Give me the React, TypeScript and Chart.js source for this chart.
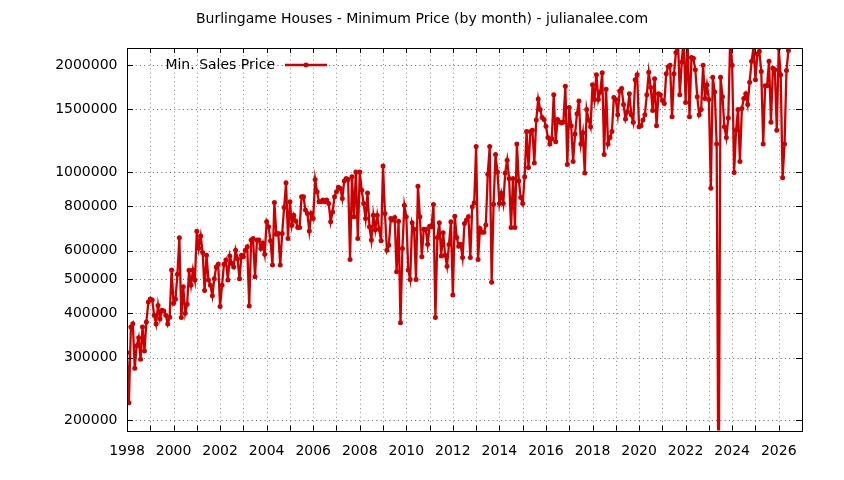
import React, { useEffect, useRef } from "react";
import { Chart, registerables } from "chart.js";

Chart.register(...registerables);

// ---------- text ----------
const TITLE = "Burlingame Houses - Minimum Price (by month) - julianalee.com";
const SERIES_LABEL = "Min. Sales Price";

// ---------- axes ----------
const X_MIN = 1998;
const X_MAX = 2027;
const START_YEAR = 1998; // first value = Jan 1998, one value per month
const Y_MIN = 187000;
const Y_MAX = 2235000;
const Y_TICKS = [200000, 300000, 400000, 500000, 600000, 800000, 1000000, 1500000, 2000000];

// ---------- data: minimum sale price per month, in thousands of dollars ----------
// Jan 1998 - Dec 2002
const pricesA = [
  310, 224, 366, 374, 280, 324, 341, 297, 366, 313, 378, 430,
  439, 436, 395, 373, 421, 386, 408, 406, 395, 373, 390, 530,
  427, 438, 515, 653, 389, 475, 400, 424, 529, 480, 530, 496,
  681, 610, 660, 593, 464, 583, 496, 480, 448, 500, 540, 550,
  418, 480, 550, 565, 496, 580, 552, 540, 602, 570, 500, 583,
];
// Jan 2003 - Nov 2007
const pricesB = [
  577, 602, 616, 419, 643, 650, 507, 643, 643, 609,
  630, 587, 724, 701, 640, 547, 820, 668, 671, 547,
  671, 794, 932, 650, 824, 708, 755, 728, 698, 698,
  851, 851, 781, 764, 682, 764, 740, 953, 880, 824,
  824, 834, 824, 834, 815, 724, 772, 851, 880, 906,
  899, 842, 944, 959, 953, 567, 969, 748, 1000,
];
// Dec 2007 - Sep 2012
const pricesC = [
  650, 1000, 889, 815, 740, 873, 701, 643, 755, 688,
  755, 690, 640, 1040, 764, 602, 622, 740, 732, 745,
  524, 727, 376, 609, 806, 748, 530, 498, 719, 690,
  498, 912, 748, 577, 690, 690, 626, 703, 701, 810,
  389, 654, 719, 580, 674, 583, 543, 625, 724, 450,
  751, 654, 618, 626, 574, 716, 732, 748,
];
// Oct 2012 - Oct 2017
const pricesD = [
  574, 798, 819, 1180, 567, 693, 676, 676, 709, 986,
  1180, 489, 811, 1120, 1000, 815, 871, 815, 994, 1080,
  959, 698, 959, 698, 1200, 944, 847, 815, 969, 1300,
  1030, 1300, 1310, 1060, 1400, 1605, 1500, 1425, 1406, 1346,
  1250, 1200, 1240, 1650, 1216, 1406, 1384, 1375, 1384, 1745,
  1050, 1520, 1350, 1070, 1280, 1460, 1586, 1200, 1290, 994,
  1500,
];
// Nov 2017 - May 2020
const pricesE = [
  1400, 1340, 1760, 1600, 1880, 1600, 1680, 1905, 1120, 1710,
  1200, 1250, 1300, 1620, 1600, 1450, 1690, 1720, 1550, 1410,
  1477, 1660, 1450, 1380, 1820, 1880, 1340, 1350, 1400, 1450,
  1650,
];
// Jun 2020 - Aug 2022
const pricesF = [
  1910, 1730, 1490, 1830, 1350, 1660, 1650, 1590, 1560, 1890,
  1980, 2000, 1430, 1890, 2170, 2400, 1650, 2040, 2400, 1570,
  2400, 1430, 2100, 2090, 1940, 1630, 1450,
];
// Sep 2022 - Jun 2026
const pricesG = [
  1500, 2000, 1610, 1760, 1600, 900, 1850, 1680, 1200,
  100, 1850, 1630, 1340, 1250, 1420, 2400, 2000, 997, 1310,
  1500, 1070, 1510, 1610, 1660, 1550, 1790, 2050, 2240, 1820,
  2150, 2190, 1920, 1200, 1750, 1750, 2050, 1380, 1960, 1940,
  1310, 2230, 1880, 963, 1200, 1930, 2200,
];

// ---------- style ----------
const FONT = "DejaVu Sans";
const FONT_SIZE = 14;
const LINE_COLOR = "#cc0000";

export default function App() {
  const ref = useRef<HTMLCanvasElement | null>(null);

  useEffect(() => {
    document.body.style.margin = "0";
    const canvas = ref.current;
    if (!canvas) return;

    const allK = [...pricesA, ...pricesB, ...pricesC, ...pricesD, ...pricesE, ...pricesF, ...pricesG];
    const points = allK.map((k, i) => ({ x: START_YEAR + i / 12, y: k * 1000 }));

    const gridPlugin = {
      id: "dottedGrid",
      beforeDatasetsDraw(chart: any) {
        const ctx = chart.ctx;
        const a = chart.chartArea;
        const xs = chart.scales.x;
        const ys = chart.scales.y;
        ctx.save();
        ctx.lineWidth = 1;
        ctx.setLineDash([1, 3.3]);
        ctx.strokeStyle = "#8c8c8c";
        ctx.beginPath();
        for (let yr = X_MIN + 1; yr < X_MAX; yr++) {
          const px = Math.round(xs.getPixelForValue(yr)) + 0.5;
          ctx.moveTo(px, a.bottom);
          ctx.lineTo(px, a.top);
        }
        ctx.stroke();
        ctx.strokeStyle = "#5a5a5a";
        ctx.beginPath();
        for (const v of Y_TICKS) {
          const py = Math.round(ys.getPixelForValue(v)) + 0.5;
          ctx.moveTo(a.left, py);
          ctx.lineTo(a.right, py);
        }
        ctx.stroke();
        ctx.restore();
      },
    };

    const decor = {
      id: "decor",
      afterDraw(chart: any) {
        const ctx = chart.ctx;
        const a = chart.chartArea;
        const xs = chart.scales.x;
        const ys = chart.scales.y;
        ctx.save();
        // frame
        ctx.strokeStyle = "#000";
        ctx.lineWidth = 1;
        ctx.strokeRect(Math.round(a.left) + 0.5, Math.round(a.top) + 0.5, Math.round(a.right - a.left), Math.round(a.bottom - a.top));
        // inward tics
        ctx.beginPath();
        for (let yr = X_MIN; yr <= X_MAX; yr++) {
          const px = Math.round(xs.getPixelForValue(yr)) + 0.5;
          ctx.moveTo(px, a.bottom);
          ctx.lineTo(px, a.bottom - 5);
          ctx.moveTo(px, a.top);
          ctx.lineTo(px, a.top + 5);
        }
        for (const v of Y_TICKS) {
          const py = Math.round(ys.getPixelForValue(v)) + 0.5;
          ctx.moveTo(a.left, py);
          ctx.lineTo(a.left + 6, py);
          ctx.moveTo(a.right, py);
          ctx.lineTo(a.right - 6, py);
        }
        ctx.stroke();
        // title
        ctx.fillStyle = "#000";
        ctx.font = `${FONT_SIZE}px "${FONT}"`;
        ctx.textAlign = "center";
        ctx.textBaseline = "middle";
        ctx.fillText(TITLE, chart.width / 2, 19);
        // key
        const ky = a.top + 17;
        ctx.textAlign = "right";
        ctx.fillText(SERIES_LABEL, a.left + 148, ky);
        ctx.strokeStyle = LINE_COLOR;
        ctx.lineWidth = 2.3;
        ctx.beginPath();
        ctx.moveTo(a.left + 158, ky);
        ctx.lineTo(a.left + 200, ky);
        ctx.stroke();
        ctx.fillStyle = LINE_COLOR;
        ctx.beginPath();
        ctx.arc(a.left + 179, ky, 2.5, 0, Math.PI * 2);
        ctx.fill();
        ctx.restore();
      },
    };

    const chart = new Chart(canvas, {
      type: "line",
      data: {
        datasets: [
          {
            label: SERIES_LABEL,
            data: points,
            borderColor: LINE_COLOR,
            backgroundColor: LINE_COLOR,
            borderWidth: 2.3,
            pointRadius: 2.5,
            pointBorderWidth: 0,
            pointBackgroundColor: LINE_COLOR,
            tension: 0,
            xAxisID: "x",
            yAxisID: "y",
          },
        ],
      },
      options: {
        responsive: false,
        animation: false,
        layout: { padding: 0 },
        plugins: {
          legend: { display: false },
          title: { display: false },
          tooltip: { enabled: false },
        },
        scales: {
          x: {
            type: "linear",
            position: "bottom",
            min: X_MIN,
            max: X_MAX,
            afterFit: (s: any) => {
              s.height = 49.5;
            },
            afterBuildTicks: (s: any) => {
              const t = [];
              for (let yr = X_MIN; yr <= X_MAX; yr++) t.push({ value: yr });
              s.ticks = t;
            },
            ticks: {
              autoSkip: false,
              maxRotation: 0,
              padding: 12,
              color: "#000",
              font: { family: FONT, size: FONT_SIZE },
              callback: (v: any) => (Number(v) % 2 === 0 && Number(v) < X_MAX ? String(v) : ""),
            },
            grid: { display: false, drawTicks: false },
            border: { display: false },
          },
          xTop: {
            type: "linear",
            position: "top",
            min: X_MIN,
            max: X_MAX,
            afterFit: (s: any) => {
              s.height = 48;
            },
            ticks: { display: false },
            grid: { display: false, drawTicks: false },
            border: { display: false },
          },
          y: {
            type: "logarithmic",
            position: "left",
            min: Y_MIN,
            max: Y_MAX,
            afterFit: (s: any) => {
              s.width = 127;
            },
            afterBuildTicks: (s: any) => {
              s.ticks = Y_TICKS.map((v) => ({ value: v }));
            },
            ticks: {
              padding: 9.5,
              color: "#000",
              font: { family: FONT, size: FONT_SIZE },
              callback: (v: any) => String(v),
            },
            grid: { display: false, drawTicks: false },
            border: { display: false },
          },
          yRight: {
            type: "logarithmic",
            position: "right",
            min: Y_MIN,
            max: Y_MAX,
            afterFit: (s: any) => {
              s.width = 42;
            },
            ticks: { display: false },
            grid: { display: false, drawTicks: false },
            border: { display: false },
          },
        },
      },
      plugins: [gridPlugin, decor],
    });

    return () => chart.destroy();
  }, []);

  return (
    <div style={{ width: 844, height: 480, background: "#fff" }}>
      <canvas ref={ref} width={844} height={480} style={{ width: 844, height: 480, display: "block" }} />
    </div>
  );
}
